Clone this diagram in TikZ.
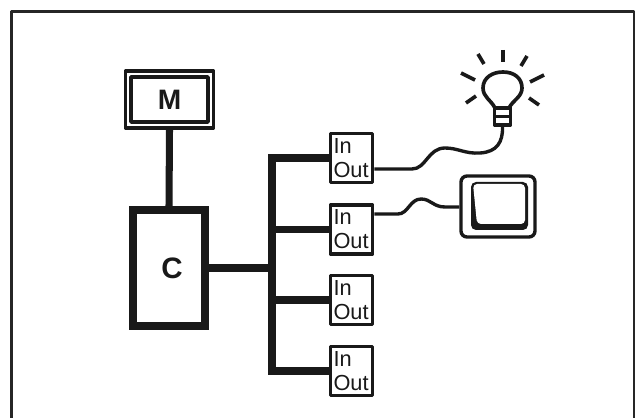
\documentclass[tikz,border=0pt]{standalone}
\usepackage{fontspec}
\setmainfont{Liberation Sans}
\tikzset{
  bus/.style={line width=5pt},
  cable/.style={line width=2.4pt},
  frameline/.style={line width=1.5pt,draw=black!85},
  iobox/.style={draw,line width=2.5pt,minimum width=42\px,minimum height=49\px,inner sep=0pt,
    align=left,text width=36\px,font=\fontsize{15.5}{17}\selectfont},
  ray/.style={line width=2.6pt},
}
\newcommand{\px}{*.25mm}
\begin{document}
\begin{tikzpicture}[x=.25mm,y=-.25mm,line join=round,black!90]
  \useasboundingbox (0,0) rectangle (642,418);
  \draw[frameline] (11.5,418) -- (11.5,11.5) -- (634,11.5) -- (634,418);
  % left part
  \node[draw,line width=2.5pt,minimum width=88\px,minimum height=57\px] (mouter) at (169.5,99.5) {};
  \node[draw,line width=2.5pt,minimum width=77\px,minimum height=45\px,
    font=\fontsize{20}{20}\bfseries] (m) at (169.5,99.5) {M};
  \node[draw,line width=5pt,line join=miter,minimum width=72\px,minimum height=116\px,
    font=\fontsize{21}{21}\bfseries] (c) at (169,268) {\hspace{1.5mm}C};
  % in/out boxes
  \node[iobox] (io1) at (351.5,158) {In\\Out};
  \node[iobox] (io2) at (351.5,229.5) {In\\Out};
  \node[iobox] (io3) at (351.5,300) {In\\Out};
  \node[iobox] (io4) at (351.5,371) {In\\Out};
  \coordinate (busjoint) at (272,268);
  \draw[bus] (mouter.south) -- (c.north);
  \draw[bus] (c.east) -- (busjoint);
  \draw[bus,line join=miter] (io1.west) -| (busjoint);
  \draw[bus,line join=miter] (io4.west) -| (busjoint);
  \draw[bus] (io2.west) -- (io2.west -| busjoint);
  \draw[bus] (io3.west) -- (io3.west -| busjoint);
  % lamp
  \draw[line width=2.6pt] (495,108) .. controls (491,100) and (483,97) .. (483,88)
    .. controls (483,78) and (492,72) .. (503,72)
    .. controls (514,72) and (522,78) .. (522,88)
    .. controls (522,97) and (513,100) .. (509,108);
  \node[draw,line width=2.4pt,minimum width=16\px,minimum height=17\px,inner sep=0pt] (base) at (502.5,116.5) {};
  \draw[line width=1.8pt] (base.west) -- (base.east);
  \foreach \xa/\ya/\xb/\yb in {503/50/503/62,478/54/484/64,527/56/521/66,461/73/475/80,
      544/75/530/82,466/103/476/96,539/105/529/98}
    \draw[ray] (\xa,\ya) -- (\xb,\yb);
  % screen
  \node[draw,line width=2.4pt,rounded corners=6\px,minimum width=74\px,minimum height=61\px] (screen) at (498,206.5) {};
  \fill[rounded corners=5\px] (471,182) rectangle (528,230);
  \fill[white,rounded corners=4\px] (473,184) -- (525,184) -- (525,224) -- (477,224) -- cycle;
  % cables
  \coordinate (cable1) at (io1.east |- 0,169);
  \coordinate (cable2) at (io2.east |- 0,214);
  \draw[cable] (cable1) -- (412,169) .. controls (426,169) and (428,148) .. (445,148)
    .. controls (458,148) and (465,154) .. (480,153)
    .. controls (497,152) and (503,142) .. (base.south);
  \draw[cable] (cable2) -- (398,214) .. controls (408,214) and (410,199) .. (421,199)
    .. controls (431,199) and (433,207) .. (445,207) -- (screen.west |- 0,207);
\end{tikzpicture}
\end{document}
